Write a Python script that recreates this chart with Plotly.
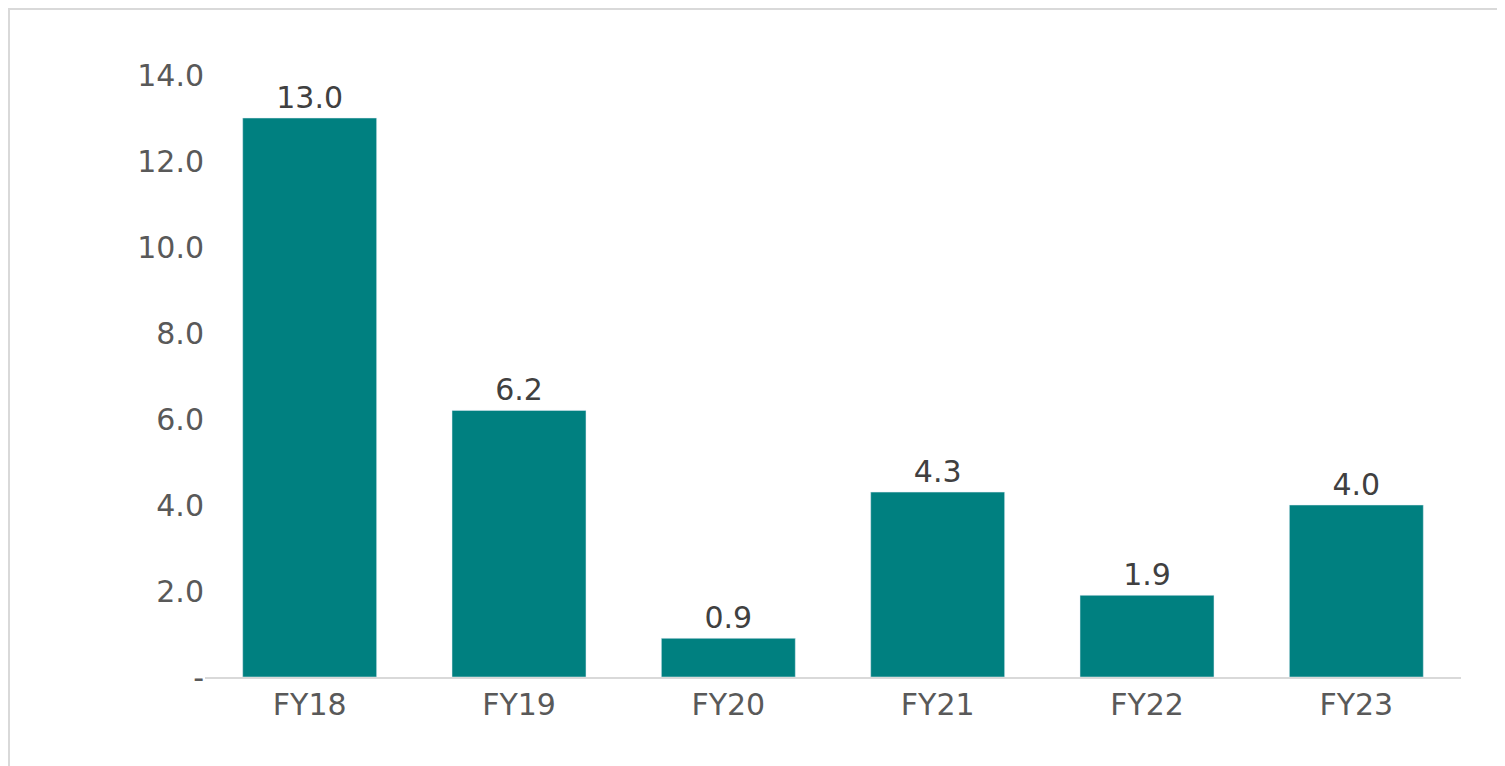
import plotly.graph_objects as go

categories = ["FY18", "FY19", "FY20", "FY21", "FY22", "FY23"]
values = [13.0, 6.2, 0.9, 4.3, 1.9, 4.0]
tick_vals = [0, 2, 4, 6, 8, 10, 12, 14]
tick_text = ["-", "2.0", "4.0", "6.0", "8.0", "10.0", "12.0", "14.0"]

W, H = 1505, 766
L, R, T, B = 197, 52, 67, 97
pw, ph = W - L - R, H - T - B

fig = go.Figure(go.Bar(
    x=categories, y=values, marker_color="#008080",
    text=[f"{v:.1f}" for v in values], textposition="outside",
    textfont=dict(size=30, color="#404040", family="DejaVu Sans"),
    cliponaxis=False,
))
fig.update_layout(
    width=W, height=H, margin=dict(l=L, r=R, t=T, b=B),
    paper_bgcolor="white", plot_bgcolor="white", bargap=0.36,
    font=dict(family="DejaVu Sans", size=30, color="#595959"),
    showlegend=False,
    xaxis=dict(showline=True, linecolor="#d9d9d9", linewidth=2, ticks="",
               tickfont=dict(size=30, color="#595959")),
    yaxis=dict(range=[0, 14], tickvals=tick_vals, ticktext=tick_text,
               showgrid=False, zeroline=False, ticks="", ticklen=0,
               tickfont=dict(size=30, color="#595959")),
    shapes=[dict(type="rect", xref="paper", yref="paper",
                 x0=-(L - 1) / pw, x1=1 + (R - 1) / pw,
                 y0=-(B - 1) / ph, y1=1 + (T - 1) / ph,
                 line=dict(color="#d9d9d9", width=2))],
)
fig.write_html("out.html")
